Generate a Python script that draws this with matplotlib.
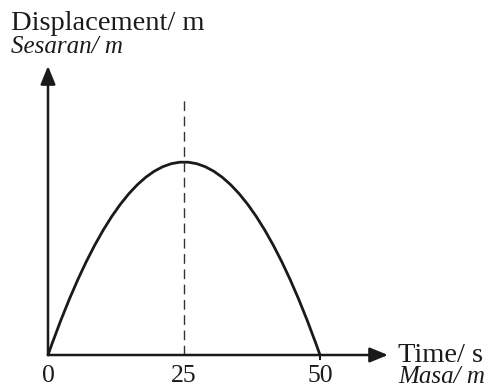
import matplotlib
matplotlib.use("Agg")
import matplotlib.pyplot as plt
from matplotlib.path import Path
from matplotlib.patches import PathPatch

# Data
times = [0, 25, 50]          # s: start, peak, end
displacement = [0, 100, 0]   # arbitrary units (peak = 100)
tick_values = [0, 25, 50]
tick_labels = ["0", "25", "50"]

W, H = 488, 388
fig = plt.figure(figsize=(W / 100, H / 100), dpi=100)
ax = fig.add_axes([0, 0, 1, 1])
ax.set_axis_off()

# pixel mapping: origin at (48, 355) from top-left, 5.44 px per s, 1.93 px per unit
ox, oy = 48, 355
sx, sy = 136 / 25, 1.93
ax.set_xlim(-ox / sx, (W - ox) / sx)
ax.set_ylim(-(H - oy) / sy, oy / sy)

serif = "Liberation Serif"

# parabola as quadratic Bezier through start, peak, end
peak_t, peak_s = times[1], displacement[1]
verts = [(times[0], displacement[0]), (peak_t, 2 * peak_s), (times[2], displacement[2])]
path = Path(verts, [Path.MOVETO, Path.CURVE3, Path.CURVE3])
ax.add_patch(PathPatch(path, fill=False, lw=2.0, color="#1a1a1a", capstyle="round"))

# dashed line at peak time
ax.plot([peak_t, peak_t], [0, (oy - 97) / sy], color="#333333", lw=1.0,
        dashes=(7, 4))

# axes arrows
x_tip = (388 - ox) / sx
y_tip = (oy - 66) / sy
ap = dict(arrowstyle="-|>,head_length=11,head_width=4.5", mutation_scale=1,
          lw=1.8, color="#1a1a1a", shrinkA=0, shrinkB=0)
ax.annotate("", xy=(x_tip, 0), xytext=(0, 0), arrowprops=ap)
ax.annotate("", xy=(0, y_tip), xytext=(0, 0), arrowprops=ap)

# small tick at 50
ax.plot([times[2], times[2]], [0, -4 / sy], color="#1a1a1a", lw=1.5)

# tick labels
for v, lab in zip(tick_values, tick_labels):
    ax.text(v, -(382 - oy) / sy, lab, ha="center", va="baseline",
            fontsize=18.5, family=serif, color="#1a1a1a")

def ftext(px, py, s, **kw):
    fig.text(px / W, 1 - py / H, s, va="baseline", ha="left",
             family=serif, color="#1a1a1a", **kw)

ftext(11, 30, "Displacement/ m", fontsize=20.5)
ftext(11, 53, "Sesaran/ m", fontsize=18, style="italic")
ftext(398, 362, "Time/ s", fontsize=20.5)
ftext(398, 383, "Masa/ m", fontsize=18, style="italic")

fig.savefig("out.png", dpi=100)
